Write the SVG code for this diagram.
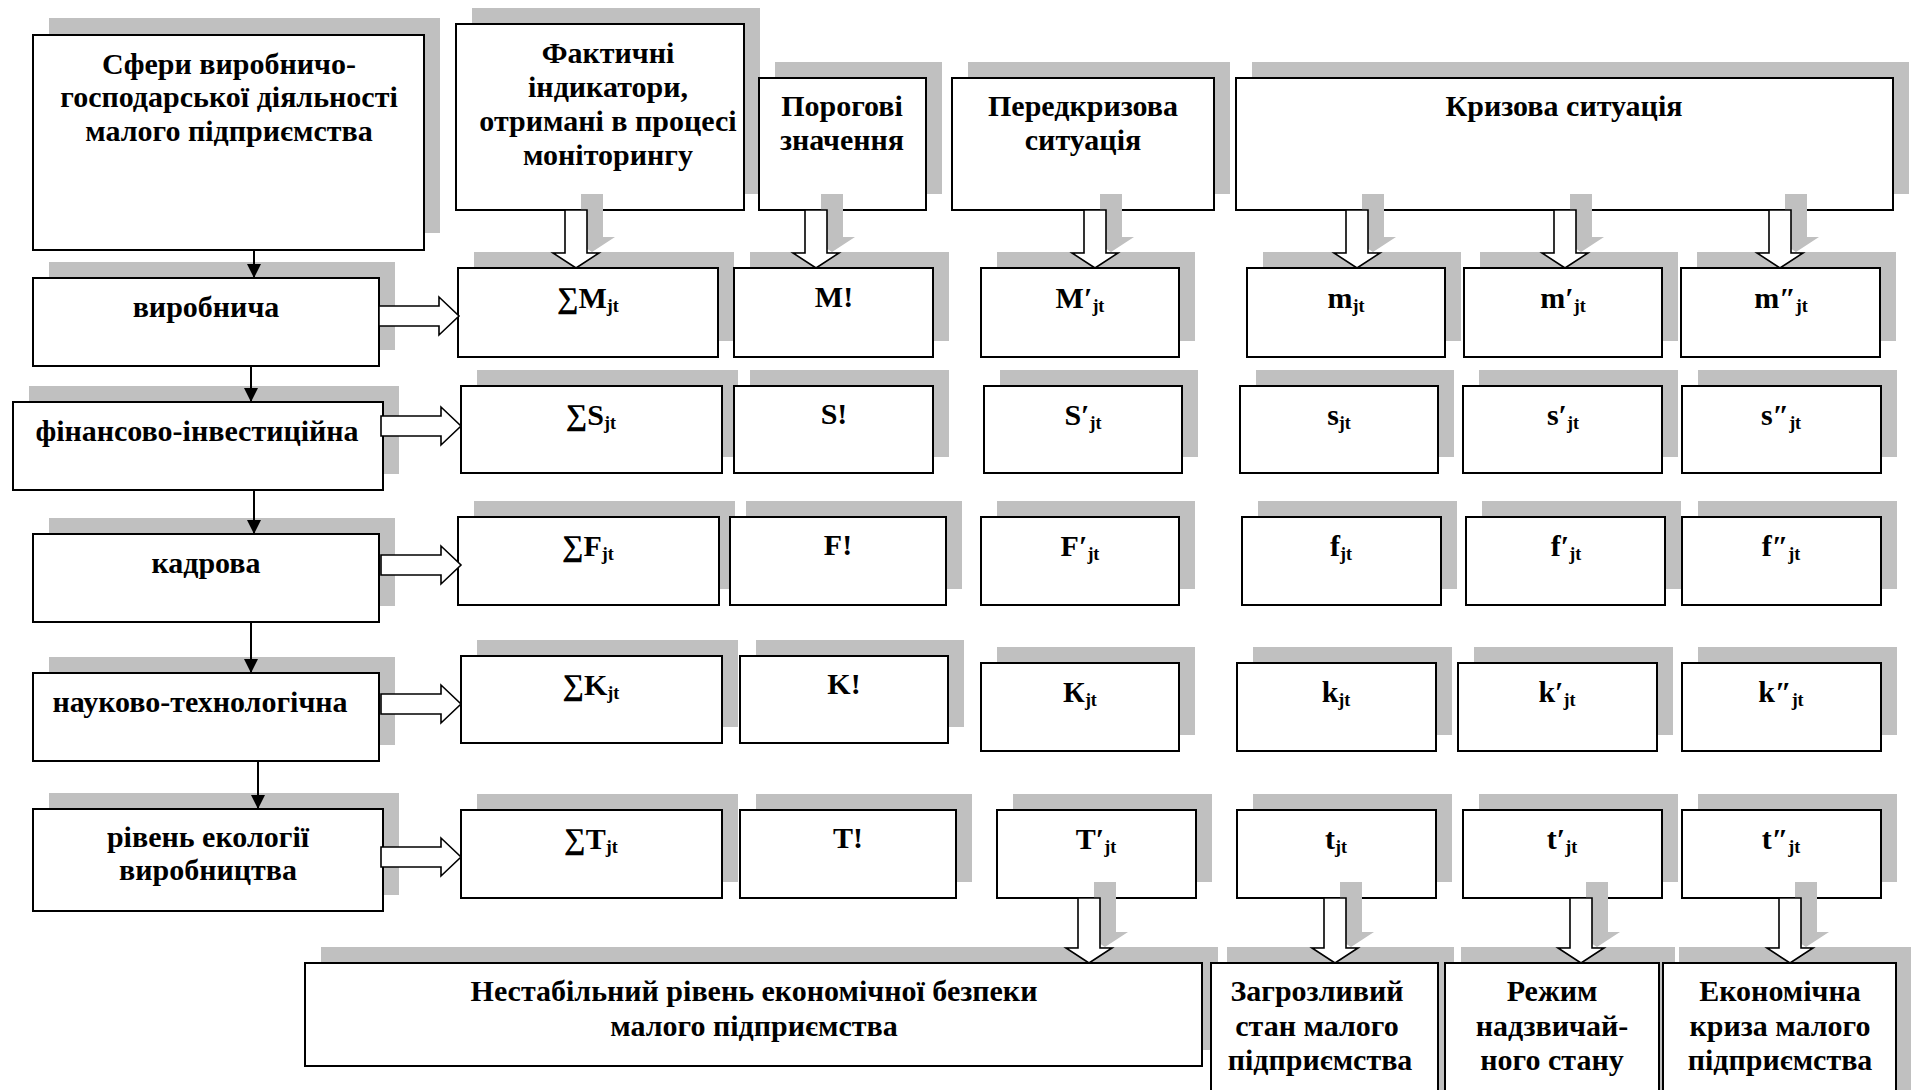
<svg xmlns="http://www.w3.org/2000/svg" width="1911" height="1090" viewBox="0 0 1911 1090">
<style>
.sh{fill:#c0c0c0}
.bx{fill:#fff;stroke:#000;stroke-width:2}
.t{font-family:"Liberation Serif","Times New Roman",serif;font-weight:bold;font-size:30px;text-anchor:middle;fill:#000}
.sub{font-size:18px}
.ln{stroke:#000;stroke-width:2;fill:none}
.ba{fill:#fff;stroke:#000;stroke-width:1.6;stroke-linejoin:miter}
</style>
<defs>
<marker id="ah" markerUnits="userSpaceOnUse" markerWidth="14" markerHeight="14" refX="14" refY="7" orient="auto" viewBox="0 0 14 14">
<path d="M0,0 L14,7 L0,14 Z" fill="#000"/>
</marker>
<path id="dTop" d="M-11,0 H11 V43 H23 L0,58 L-23,43 H-11 Z"/>
<path id="dBot" d="M-11,0 H11 V50 H23 L0,65 L-23,50 H-11 Z"/>
<path id="rArr" d="M0,-10 H60 V-19 L80,0 L60,19 V10 H0 Z"/>
</defs>
<rect width="1911" height="1090" fill="#fff"/>

<!-- shadows -->
<g id="shadows" class="sh">
<rect x="49" y="18" width="391" height="215"/>
<rect x="472" y="8" width="288" height="186"/>
<rect x="775" y="62" width="167" height="132"/>
<rect x="968" y="62" width="262" height="132"/>
<rect x="1252" y="62" width="657" height="132"/>
<rect x="49" y="262" width="346" height="88"/>
<rect x="29" y="386" width="370" height="88"/>
<rect x="49" y="518" width="346" height="88"/>
<rect x="49" y="657" width="346" height="88"/>
<rect x="49" y="793" width="350" height="102"/>
<rect x="474" y="252" width="260" height="89"/>
<rect x="750" y="252" width="199" height="89"/>
<rect x="997" y="252" width="198" height="89"/>
<rect x="1263" y="252" width="198" height="89"/>
<rect x="1480" y="252" width="198" height="89"/>
<rect x="1697" y="252" width="199" height="89"/>
<rect x="477" y="370" width="261" height="87"/>
<rect x="750" y="370" width="199" height="87"/>
<rect x="1000" y="370" width="198" height="87"/>
<rect x="1256" y="370" width="198" height="87"/>
<rect x="1479" y="370" width="199" height="87"/>
<rect x="1698" y="370" width="199" height="87"/>
<rect x="474" y="501" width="261" height="88"/>
<rect x="746" y="501" width="216" height="88"/>
<rect x="997" y="501" width="198" height="88"/>
<rect x="1258" y="501" width="199" height="88"/>
<rect x="1482" y="501" width="199" height="88"/>
<rect x="1698" y="501" width="199" height="88"/>
<rect x="477" y="640" width="261" height="87"/>
<rect x="756" y="640" width="208" height="87"/>
<rect x="997" y="647" width="198" height="88"/>
<rect x="1253" y="647" width="199" height="88"/>
<rect x="1474" y="647" width="199" height="88"/>
<rect x="1698" y="647" width="199" height="88"/>
<rect x="477" y="794" width="261" height="88"/>
<rect x="756" y="794" width="216" height="88"/>
<rect x="1013" y="794" width="199" height="88"/>
<rect x="1253" y="794" width="199" height="88"/>
<rect x="1479" y="794" width="199" height="88"/>
<rect x="1698" y="794" width="199" height="88"/>
<rect x="321" y="947" width="897" height="103"/>
<rect x="1227" y="947" width="227" height="160"/>
<rect x="1461" y="947" width="214" height="160"/>
<rect x="1679" y="947" width="233" height="160"/>
</g>

<!-- left column -->
<g id="n-sfery"><rect class="bx" x="33" y="35" width="391" height="215"/>
<text class="t" x="229" y="74">Сфери виробничо-</text>
<text class="t" x="229" y="107">господарської діяльності</text>
<text class="t" x="229" y="141">малого підприємства</text></g>
<g id="n-vyrob"><rect class="bx" x="33" y="278" width="346" height="88"/>
<text class="t" x="206" y="317">виробнича</text></g>
<g id="n-fin"><rect class="bx" x="13" y="402" width="370" height="88"/>
<text class="t" x="197" y="441">фінансово-інвестиційна</text></g>
<g id="n-kadr"><rect class="bx" x="33" y="534" width="346" height="88"/>
<text class="t" x="206" y="573">кадрова</text></g>
<g id="n-nauk"><rect class="bx" x="33" y="673" width="346" height="88"/>
<text class="t" x="200" y="712">науково-технологічна</text></g>
<g id="n-ekol"><rect class="bx" x="33" y="809" width="350" height="102"/>
<text class="t" x="208" y="847">рівень екології</text>
<text class="t" x="208" y="880">виробництва</text></g>

<!-- headers -->
<g id="h-fakt"><rect class="bx" x="456" y="24" width="288" height="186"/>
<text class="t" x="608" y="63">Фактичні</text>
<text class="t" x="608" y="97">індикатори,</text>
<text class="t" x="608" y="131">отримані в процесі</text>
<text class="t" x="608" y="165">моніторингу</text></g>
<g id="h-porog"><rect class="bx" x="759" y="78" width="167" height="132"/>
<text class="t" x="842" y="116">Порогові</text>
<text class="t" x="842" y="150">значення</text></g>
<g id="h-peredkr"><rect class="bx" x="952" y="78" width="262" height="132"/>
<text class="t" x="1083" y="116">Передкризова</text>
<text class="t" x="1083" y="150">ситуація</text></g>
<g id="h-kryz"><rect class="bx" x="1236" y="78" width="657" height="132"/>
<text class="t" x="1564" y="116">Кризова ситуація</text></g>

<!-- row M -->
<g id="c-sM"><rect class="bx" x="458" y="268" width="260" height="89"/><text class="t" x="588" y="308">∑M<tspan class="sub" dy="4">jt</tspan></text></g>
<g id="c-M0"><rect class="bx" x="734" y="268" width="199" height="89"/><text class="t" x="834" y="307">M!</text></g>
<g id="c-M1"><rect class="bx" x="981" y="268" width="198" height="89"/><text class="t" x="1080" y="308">M′<tspan class="sub" dy="4">jt</tspan></text></g>
<g id="c-m"><rect class="bx" x="1247" y="268" width="198" height="89"/><text class="t" x="1346" y="308">m<tspan class="sub" dy="4">jt</tspan></text></g>
<g id="c-m1"><rect class="bx" x="1464" y="268" width="198" height="89"/><text class="t" x="1563" y="308">m′<tspan class="sub" dy="4">jt</tspan></text></g>
<g id="c-m2"><rect class="bx" x="1681" y="268" width="199" height="89"/><text class="t" x="1781" y="308">m″<tspan class="sub" dy="4">jt</tspan></text></g>

<!-- row S -->
<g id="c-sS"><rect class="bx" x="461" y="386" width="261" height="87"/><text class="t" x="591" y="425">∑S<tspan class="sub" dy="4">jt</tspan></text></g>
<g id="c-S0"><rect class="bx" x="734" y="386" width="199" height="87"/><text class="t" x="834" y="424">S!</text></g>
<g id="c-S1"><rect class="bx" x="984" y="386" width="198" height="87"/><text class="t" x="1083" y="425">S′<tspan class="sub" dy="4">jt</tspan></text></g>
<g id="c-s"><rect class="bx" x="1240" y="386" width="198" height="87"/><text class="t" x="1339" y="425">s<tspan class="sub" dy="4">jt</tspan></text></g>
<g id="c-s1"><rect class="bx" x="1463" y="386" width="199" height="87"/><text class="t" x="1563" y="425">s′<tspan class="sub" dy="4">jt</tspan></text></g>
<g id="c-s2"><rect class="bx" x="1682" y="386" width="199" height="87"/><text class="t" x="1781" y="425">s″<tspan class="sub" dy="4">jt</tspan></text></g>

<!-- row F -->
<g id="c-sF"><rect class="bx" x="458" y="517" width="261" height="88"/><text class="t" x="588" y="556">∑F<tspan class="sub" dy="4">jt</tspan></text></g>
<g id="c-F0"><rect class="bx" x="730" y="517" width="216" height="88"/><text class="t" x="838" y="555">F!</text></g>
<g id="c-F1"><rect class="bx" x="981" y="517" width="198" height="88"/><text class="t" x="1080" y="556">F′<tspan class="sub" dy="4">jt</tspan></text></g>
<g id="c-f"><rect class="bx" x="1242" y="517" width="199" height="88"/><text class="t" x="1341" y="556">f<tspan class="sub" dy="4">jt</tspan></text></g>
<g id="c-f1"><rect class="bx" x="1466" y="517" width="199" height="88"/><text class="t" x="1566" y="556">f′<tspan class="sub" dy="4">jt</tspan></text></g>
<g id="c-f2"><rect class="bx" x="1682" y="517" width="199" height="88"/><text class="t" x="1781" y="556">f″<tspan class="sub" dy="4">jt</tspan></text></g>

<!-- row K -->
<g id="c-sK"><rect class="bx" x="461" y="656" width="261" height="87"/><text class="t" x="591" y="695">∑K<tspan class="sub" dy="4">jt</tspan></text></g>
<g id="c-K0"><rect class="bx" x="740" y="656" width="208" height="87"/><text class="t" x="844" y="694">K!</text></g>
<g id="c-K1"><rect class="bx" x="981" y="663" width="198" height="88"/><text class="t" x="1080" y="702">К<tspan class="sub" dy="4">jt</tspan></text></g>
<g id="c-k"><rect class="bx" x="1237" y="663" width="199" height="88"/><text class="t" x="1336" y="702">k<tspan class="sub" dy="4">jt</tspan></text></g>
<g id="c-k1"><rect class="bx" x="1458" y="663" width="199" height="88"/><text class="t" x="1557" y="702">k′<tspan class="sub" dy="4">jt</tspan></text></g>
<g id="c-k2"><rect class="bx" x="1682" y="663" width="199" height="88"/><text class="t" x="1781" y="702">k″<tspan class="sub" dy="4">jt</tspan></text></g>

<!-- row T -->
<g id="c-sT"><rect class="bx" x="461" y="810" width="261" height="88"/><text class="t" x="591" y="849">∑T<tspan class="sub" dy="4">jt</tspan></text></g>
<g id="c-T0"><rect class="bx" x="740" y="810" width="216" height="88"/><text class="t" x="848" y="848">T!</text></g>
<g id="c-T1"><rect class="bx" x="997" y="810" width="199" height="88"/><text class="t" x="1096" y="849">T′<tspan class="sub" dy="4">jt</tspan></text></g>
<g id="c-t"><rect class="bx" x="1237" y="810" width="199" height="88"/><text class="t" x="1336" y="849">t<tspan class="sub" dy="4">jt</tspan></text></g>
<g id="c-t1"><rect class="bx" x="1463" y="810" width="199" height="88"/><text class="t" x="1562" y="849">t′<tspan class="sub" dy="4">jt</tspan></text></g>
<g id="c-t2"><rect class="bx" x="1682" y="810" width="199" height="88"/><text class="t" x="1781" y="849">t″<tspan class="sub" dy="4">jt</tspan></text></g>

<!-- bottom row -->
<g id="b-nestab"><rect class="bx" x="305" y="963" width="897" height="103"/>
<text class="t" x="754" y="1001">Нестабільний рівень економічної безпеки</text>
<text class="t" x="754" y="1036">малого підприємства</text></g>
<g id="b-zagroz"><rect class="bx" x="1211" y="963" width="227" height="160"/>
<text class="t" x="1317" y="1001">Загрозливий</text>
<text class="t" x="1317" y="1036">стан малого</text>
<text class="t" x="1320" y="1070">підприємства</text></g>
<g id="b-rezhym"><rect class="bx" x="1445" y="963" width="214" height="160"/>
<text class="t" x="1552" y="1001">Режим</text>
<text class="t" x="1552" y="1036">надзвичай-</text>
<text class="t" x="1552" y="1070">ного стану</text></g>
<g id="b-ekon"><rect class="bx" x="1663" y="963" width="233" height="160"/>
<text class="t" x="1780" y="1001">Економічна</text>
<text class="t" x="1780" y="1036">криза малого</text>
<text class="t" x="1780" y="1070">підприємства</text></g>

<!-- connectors -->
<g id="connectors">
<g class="sh">
<use href="#dTop" transform="translate(592,194)"/>
<use href="#dTop" transform="translate(832,194)"/>
<use href="#dTop" transform="translate(1111,194)"/>
<use href="#dTop" transform="translate(1373,194)"/>
<use href="#dTop" transform="translate(1581,194)"/>
<use href="#dTop" transform="translate(1796,194)"/>
<use href="#dBot" transform="translate(1105,882)"/>
<use href="#dBot" transform="translate(1351,882)"/>
<use href="#dBot" transform="translate(1597,882)"/>
<use href="#dBot" transform="translate(1806,882)"/>
</g>
<g class="ba">
<use href="#dTop" transform="translate(576,210)"/>
<use href="#dTop" transform="translate(816,210)"/>
<use href="#dTop" transform="translate(1095,210)"/>
<use href="#dTop" transform="translate(1357,210)"/>
<use href="#dTop" transform="translate(1565,210)"/>
<use href="#dTop" transform="translate(1780,210)"/>
<use href="#dBot" transform="translate(1089,898)"/>
<use href="#dBot" transform="translate(1335,898)"/>
<use href="#dBot" transform="translate(1581,898)"/>
<use href="#dBot" transform="translate(1790,898)"/>
<use href="#rArr" transform="translate(379,316)"/>
<use href="#rArr" transform="translate(381,426)"/>
<use href="#rArr" transform="translate(381,565)"/>
<use href="#rArr" transform="translate(381,704)"/>
<use href="#rArr" transform="translate(381,857)"/>
</g>
<g class="ln">
<line x1="254" y1="250" x2="254" y2="278" marker-end="url(#ah)"/>
<line x1="251" y1="366" x2="251" y2="402" marker-end="url(#ah)"/>
<line x1="254" y1="490" x2="254" y2="534" marker-end="url(#ah)"/>
<line x1="251" y1="622" x2="251" y2="673" marker-end="url(#ah)"/>
<line x1="258" y1="761" x2="258" y2="809" marker-end="url(#ah)"/>
</g>
</g>
</svg>
